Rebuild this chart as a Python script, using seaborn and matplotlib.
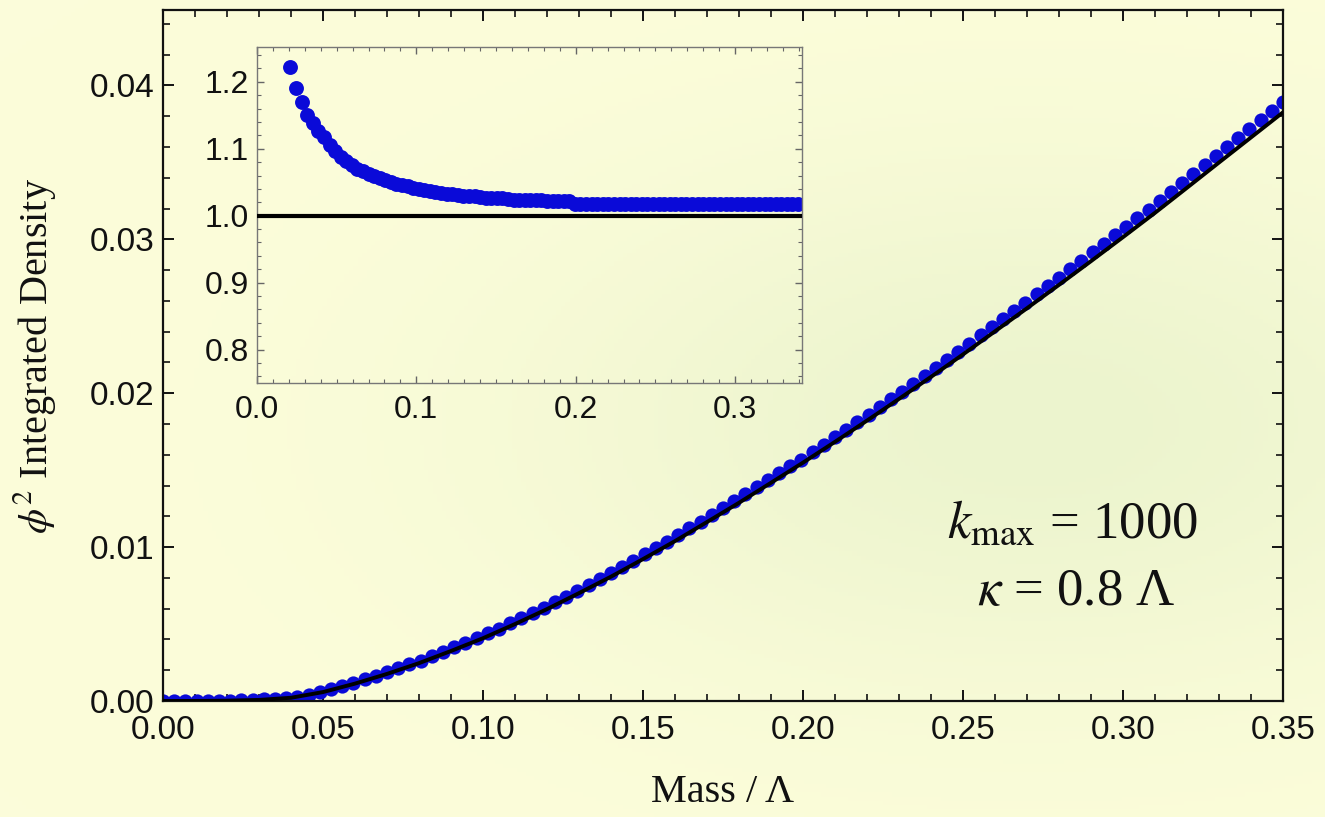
import numpy as np
import pandas as pd
import matplotlib
matplotlib.use("Agg")
import matplotlib.pyplot as plt
from matplotlib.ticker import MultipleLocator, FormatStrFormatter
import seaborn as sns

# ---------------- data ----------------
mass = [0.0, 0.0035, 0.007, 0.0105, 0.014, 0.0175, 0.021, 0.0245, 0.028, 0.0315,
        0.035, 0.0385, 0.042, 0.0455, 0.049, 0.0525, 0.056, 0.0595, 0.063, 0.0665,
        0.07, 0.0735, 0.077, 0.0805, 0.084, 0.0875, 0.091, 0.0945, 0.098, 0.1015,
        0.105, 0.1085, 0.112, 0.1155, 0.119, 0.1225, 0.126, 0.1295, 0.133, 0.1365,
        0.14, 0.1435, 0.147, 0.1505, 0.154, 0.1575, 0.161, 0.1645, 0.168, 0.1715,
        0.175, 0.1785, 0.182, 0.1855, 0.189, 0.1925, 0.196, 0.1995, 0.203, 0.2065,
        0.21, 0.2135, 0.217, 0.2205, 0.224, 0.2275, 0.231, 0.2345, 0.238, 0.2415,
        0.245, 0.2485, 0.252, 0.2555, 0.259, 0.2625, 0.266, 0.2695, 0.273, 0.2765,
        0.28, 0.2835, 0.287, 0.2905, 0.294, 0.2975, 0.301, 0.3045, 0.308, 0.3115,
        0.315, 0.3185, 0.322, 0.3255, 0.329, 0.3325, 0.336, 0.3395, 0.343, 0.3465,
        0.35]

density = [0.00001, 0.00001, 0.00002, 0.00002, 0.00002, 0.00003, 0.00003, 0.00005, 0.00007, 0.00010,
           0.00015, 0.00021, 0.00029, 0.00040, 0.00058, 0.00076, 0.00096, 0.00118, 0.00141, 0.00164,
           0.00187, 0.00213, 0.00238, 0.00263, 0.00292, 0.00320, 0.00348, 0.00378, 0.00407, 0.00439,
           0.00471, 0.00504, 0.00537, 0.00572, 0.00606, 0.00643, 0.00679, 0.00717, 0.00754, 0.00793,
           0.00831, 0.00871, 0.00912, 0.00952, 0.00994, 0.01035, 0.01076, 0.01121, 0.01164, 0.01209,
           0.01254, 0.01298, 0.01343, 0.01390, 0.01436, 0.01483, 0.01530, 0.01568, 0.01617, 0.01665,
           0.01713, 0.01761, 0.01811, 0.01860, 0.01910, 0.01961, 0.02011, 0.02061, 0.02112, 0.02164,
           0.02216, 0.02268, 0.02321, 0.02375, 0.02428, 0.02481, 0.02534, 0.02588, 0.02642, 0.02696,
           0.02750, 0.02805, 0.02860, 0.02915, 0.02970, 0.03026, 0.03082, 0.03137, 0.03193, 0.03250,
           0.03309, 0.03367, 0.03425, 0.03483, 0.03542, 0.03600, 0.03658, 0.03716, 0.03774, 0.03832,
           0.03890]

theory_mass = [0.00, 0.01, 0.02, 0.03, 0.04, 0.05, 0.06, 0.07, 0.08, 0.09,
               0.10, 0.11, 0.12, 0.13, 0.14, 0.15, 0.16, 0.17, 0.18, 0.19,
               0.20, 0.21, 0.22, 0.23, 0.24, 0.25, 0.26, 0.27, 0.28, 0.29,
               0.30, 0.31, 0.32, 0.33, 0.34, 0.35]
theory_density = [0.0, 0.000003, 0.00002, 0.00007, 0.00021, 0.00058, 0.00113, 0.00176, 0.00246, 0.00325,
                  0.00408, 0.00500, 0.00597, 0.00701, 0.00808, 0.00922, 0.01039, 0.01163, 0.01288, 0.01418,
                  0.01549, 0.01684, 0.01822, 0.01963, 0.02106, 0.02252, 0.02402, 0.02552, 0.02704, 0.02858,
                  0.03014, 0.03172, 0.03335, 0.03499, 0.03662, 0.03825]

ratio_mass = mass[6:98]
ratio = [1.222, 1.191, 1.170, 1.150, 1.138, 1.127, 1.117, 1.106, 1.097, 1.088,
         1.081, 1.075, 1.070, 1.066, 1.062, 1.059, 1.056, 1.053, 1.051, 1.048,
         1.046, 1.044, 1.042, 1.040, 1.038, 1.037, 1.035, 1.034, 1.033, 1.032,
         1.031, 1.030, 1.029, 1.029, 1.028, 1.027, 1.027, 1.026, 1.026, 1.025,
         1.024, 1.024, 1.023, 1.023, 1.023, 1.023, 1.022, 1.022, 1.022, 1.022,
         1.022, 1.017, 1.017, 1.017, 1.017, 1.017, 1.017, 1.017, 1.017, 1.017,
         1.017, 1.017, 1.017, 1.017, 1.017, 1.017, 1.017, 1.017, 1.017, 1.017,
         1.017, 1.017, 1.017, 1.017, 1.017, 1.017, 1.017, 1.017, 1.017, 1.017,
         1.017, 1.017, 1.017, 1.017, 1.017, 1.017, 1.017, 1.017, 1.017, 1.017,
         1.017, 1.017]

main_xticks = [0.00, 0.05, 0.10, 0.15, 0.20, 0.25, 0.30, 0.35]
main_yticks = [0.00, 0.01, 0.02, 0.03, 0.04]
inset_xticks = [0.0, 0.1, 0.2, 0.3]
inset_yticks = [0.8, 0.9, 1.0, 1.1, 1.2]

df_main = pd.DataFrame({"mass": mass, "density": density})
df_theory = pd.DataFrame({"mass": theory_mass, "density": theory_density})
df_ratio = pd.DataFrame({"mass": ratio_mass, "ratio": ratio})

# ---------------- style ----------------
sns.set_theme(style="ticks")
plt.rcParams["font.family"] = ["Liberation Sans", "DejaVu Sans"]
plt.rcParams["mathtext.fontset"] = "stix"

BLUE = "#0a0ad8"
INK = "#111111"
W, H = 1325, 817
fig = plt.figure(figsize=(W / 100, H / 100), dpi=100)

# soft yellow background with a faint greenish glow
bg = fig.add_axes([0, 0, 1, 1], zorder=-10)
gx, gy = np.meshgrid(np.linspace(0, 1, 300), np.linspace(0, 1, 200))
w = 0.85 * np.exp(-((gx - 0.78) / 0.38) ** 2 - ((gy - 0.52) / 0.32) ** 2)
c0 = np.array([0.988, 0.992, 0.855])
c1 = np.array([0.915, 0.952, 0.800])
img = c0[None, None, :] * (1 - w[..., None]) + c1[None, None, :] * w[..., None]
bg.imshow(img, aspect="auto", extent=[0, 1, 0, 1], origin="upper")
bg.axis("off")

# ---------------- main axes ----------------
ax = fig.add_axes([163 / W, 1 - 701 / H, 1120 / W, 691 / H])
ax.set_facecolor("none")
sns.scatterplot(data=df_main, x="mass", y="density", ax=ax, s=105, color=BLUE,
                linewidth=0, zorder=2, legend=False)
sns.lineplot(data=df_theory, x="mass", y="density", ax=ax, color="black",
             linewidth=2.8, zorder=3, legend=False)
ax.set_xlim(0, 0.35)
ax.set_ylim(0, 0.0449)
ax.set_xticks(main_xticks)
ax.set_yticks(main_yticks)
ax.xaxis.set_major_formatter(FormatStrFormatter("%.2f"))
ax.yaxis.set_major_formatter(FormatStrFormatter("%.2f"))
ax.xaxis.set_minor_locator(MultipleLocator(0.01))
ax.yaxis.set_minor_locator(MultipleLocator(0.002))
ax.tick_params(which="both", direction="in", top=True, right=True, color=INK)
ax.tick_params(which="major", length=8, width=1.4, labelsize=24, labelcolor=INK)
ax.tick_params(axis="x", which="major", pad=10)
ax.tick_params(axis="y", which="major", pad=6)
ax.tick_params(which="minor", length=5, width=1.2)
for sp in ax.spines.values():
    sp.set_visible(True)
    sp.set_linewidth(1.6)
    sp.set_color(INK)

ax.set_xlabel("Mass / Λ", fontfamily="Liberation Serif", fontsize=29, color=INK)
ax.set_ylabel(r"$\phi^2$ Integrated Density", fontfamily="Liberation Serif",
              fontsize=29, color=INK)
ax.xaxis.set_label_coords(0.5, -0.106)
ax.yaxis.set_label_coords(-0.094, 0.5)

ax.text(0.8125, 0.2547, r"$k_{\mathrm{max}}$ = 1000", transform=ax.transAxes,
        ha="center", va="center", fontsize=38, color=INK,
        fontfamily="Liberation Serif")
ax.text(0.815, 0.1577, r"$\kappa$ = 0.8 Λ", transform=ax.transAxes,
        ha="center", va="center", fontsize=38, color=INK,
        fontfamily="Liberation Serif")

# ---------------- inset ----------------
axi = fig.add_axes([257 / W, 1 - 383 / H, 545 / W, 336 / H])
axi.set_facecolor("none")
sns.scatterplot(data=df_ratio, x="mass", y="ratio", ax=axi, s=115, color=BLUE,
                linewidth=0, zorder=2, legend=False)
axi.axhline(1.0, color="black", linewidth=3.0, zorder=3)
axi.set_xlim(0, 0.342)
axi.set_ylim(0.75, 1.252)
axi.set_xticks(inset_xticks)
axi.set_yticks(inset_yticks)
axi.xaxis.set_major_formatter(FormatStrFormatter("%.1f"))
axi.yaxis.set_major_formatter(FormatStrFormatter("%.1f"))
axi.xaxis.set_minor_locator(MultipleLocator(0.01))
axi.yaxis.set_minor_locator(MultipleLocator(0.02))
axi.tick_params(which="both", direction="in", top=True, right=True, color="#666666")
axi.tick_params(which="major", length=5, width=1.0, labelsize=23, labelcolor=INK)
axi.tick_params(axis="x", which="major", pad=9)
axi.tick_params(axis="y", which="major", pad=6)
axi.tick_params(which="minor", length=3, width=0.8)
for sp in axi.spines.values():
    sp.set_visible(True)
    sp.set_linewidth(1.0)
    sp.set_color("#777777")
axi.set_xlabel("")
axi.set_ylabel("")

fig.savefig("out.png", dpi=100, facecolor=fig.get_facecolor())
